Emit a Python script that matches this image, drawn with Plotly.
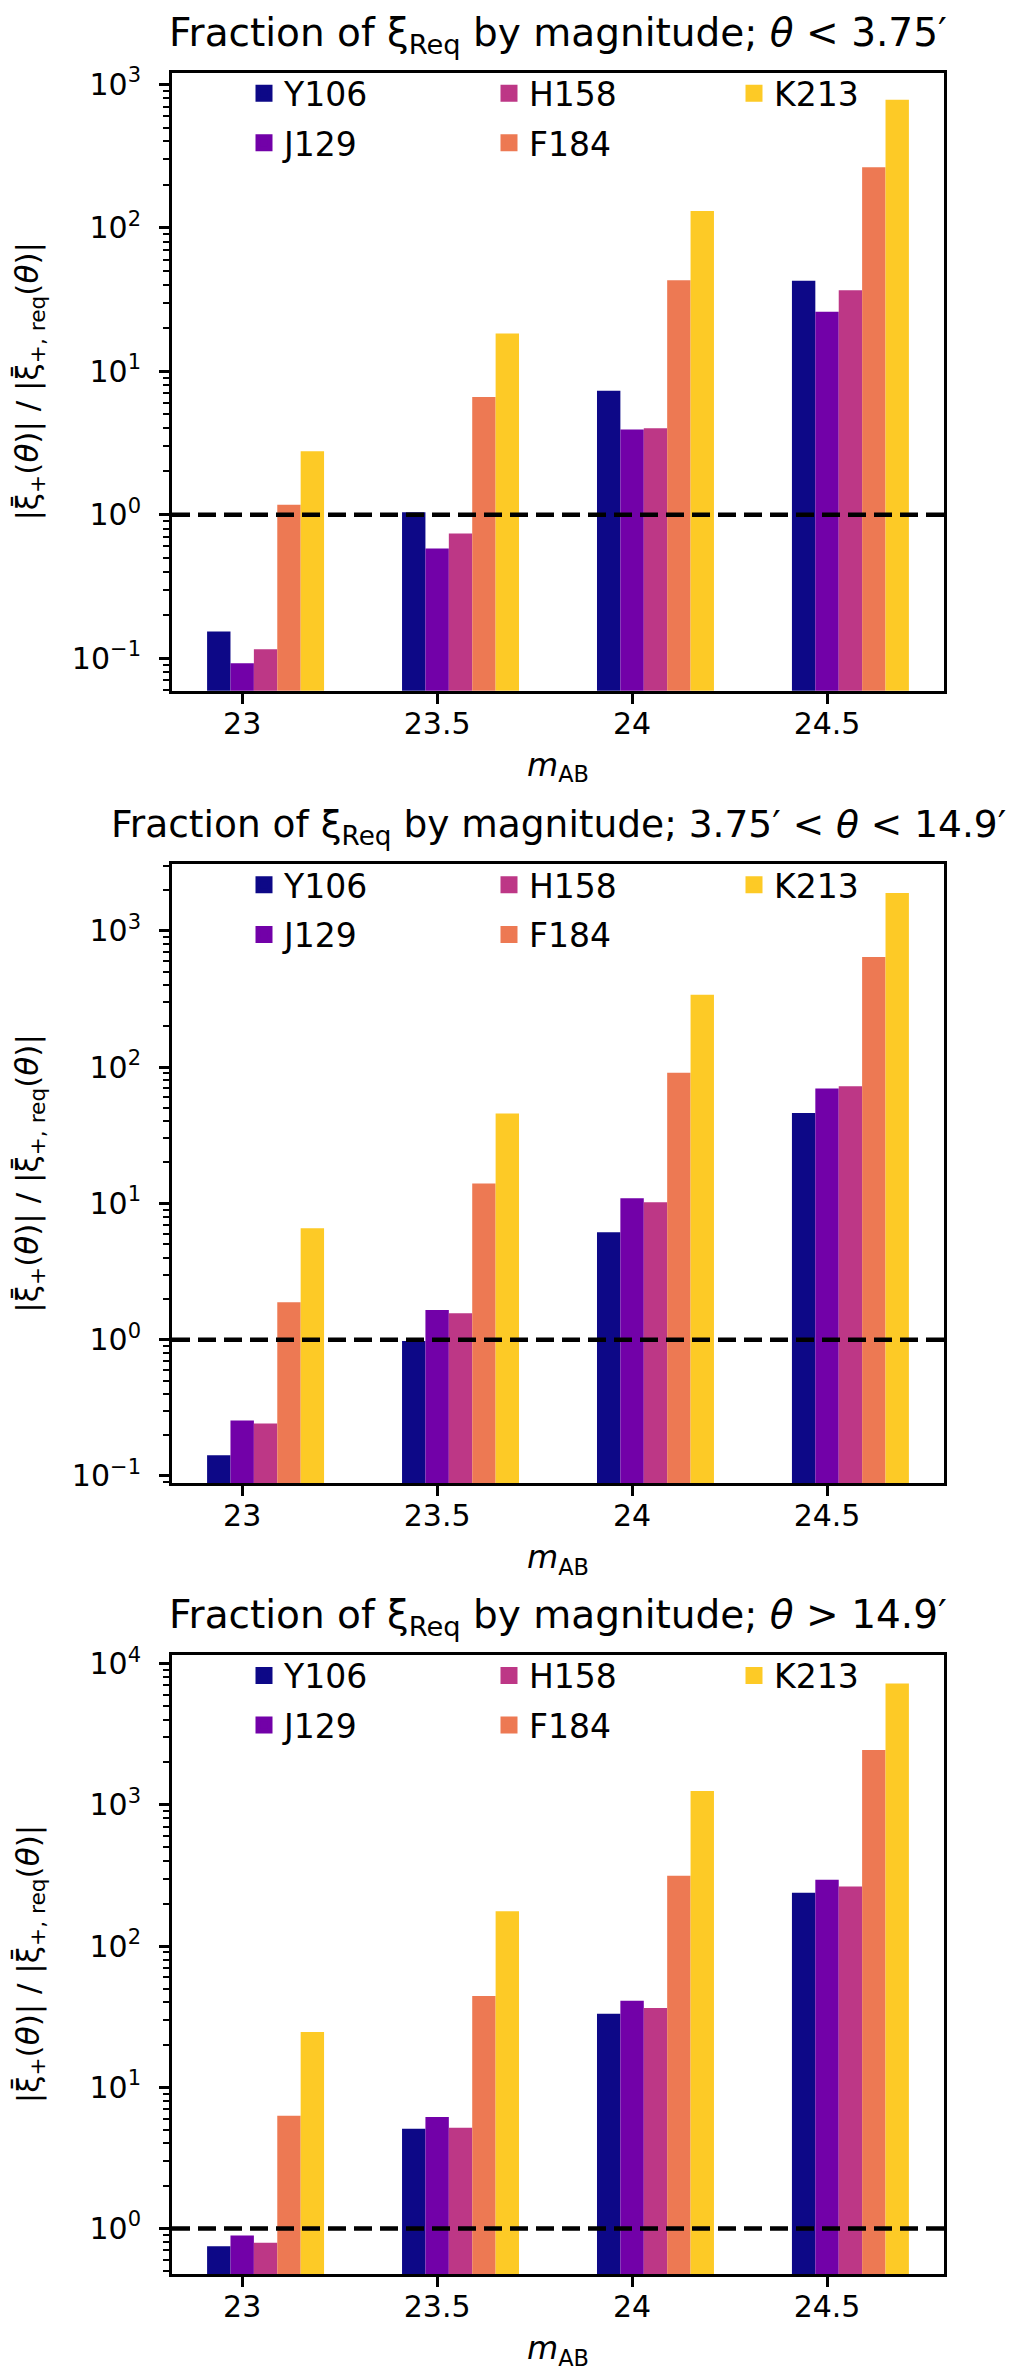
import plotly.graph_objects as go

# magnitude bins and bands
mags = [23, 23.5, 24, 24.5]
mag_labels = ["23", "23.5", "24", "24.5"]
bands = ["Y106", "J129", "H158", "F184", "K213"]
band_colors = ["#0d0887", "#7201a8", "#bd3786", "#ed7953", "#fdca26"]

# |xi+| / |xi+,req| per band (rows follow `bands`), one list per theta bin
ratio_small = [
    [0.153, 1.04, 7.3, 42.7],
    [0.092, 0.58, 3.92, 26.0],
    [0.115, 0.74, 4.0, 36.7],
    [1.17, 6.6, 43.1, 264],
    [2.77, 18.3, 131, 781],
]
ratio_mid = [
    [0.142, 0.98, 6.14, 46.1],
    [0.255, 1.65, 10.9, 69.8],
    [0.243, 1.56, 10.2, 72.5],
    [1.88, 14.0, 90.9, 643],
    [6.57, 45.7, 340, 1900],
]
ratio_large = [
    [0.747, 5.08, 33.2, 238],
    [0.893, 6.15, 41.0, 295],
    [0.792, 5.17, 36.4, 264],
    [6.28, 44.2, 315, 2445],
    [24.6, 176, 1254, 7240],
]

panel_titles = [
    "Fraction of ξ<sub>Req</sub> by magnitude; <i>θ</i> &lt; 3.75′",
    "Fraction of ξ<sub>Req</sub> by magnitude; 3.75′ &lt; <i>θ</i> &lt; 14.9′",
    "Fraction of ξ<sub>Req</sub> by magnitude; <i>θ</i> &gt; 14.9′",
]
title_sizes = [39, 37.5, 39]
y_title = "|ξ\u0304<sub>+</sub>(<i>θ</i>)| / |ξ\u0304<sub>+, req</sub>(<i>θ</i>)|"
y_ranges = [[-1.228, 3.083], [-1.054, 3.49], [-0.322, 4.063]]
y_major = [
    [0.1, 1, 10, 100, 1000],
    [0.1, 1, 10, 100, 1000],
    [1, 10, 100, 1000, 10000],
]
y_major_text = [
    ["10<sup>−1</sup>", "10<sup>0</sup>", "10<sup>1</sup>", "10<sup>2</sup>", "10<sup>3</sup>"],
    ["10<sup>−1</sup>", "10<sup>0</sup>", "10<sup>1</sup>", "10<sup>2</sup>", "10<sup>3</sup>"],
    ["10<sup>0</sup>", "10<sup>1</sup>", "10<sup>2</sup>", "10<sup>3</sup>", "10<sup>4</sup>"],
]
panels = [ratio_small, ratio_mid, ratio_large]

W, H = 1016, 2374
FONT = "DejaVu Sans"
x_dom = [164 / W, 936 / W]
# axes top / bottom in pixels from the top of the page
y_px = [(53, 677), (852, 1477), (1650, 2275)]
y_doms = [[1 - b / H, 1 - t / H] for t, b in y_px]

bar_w = 0.06
minor_vals = [m * 10 ** e for e in range(-2, 5) for m in range(2, 10)]

fig = go.Figure()

for p, ratios in enumerate(panels):
    sfx = "" if p == 0 else str(p + 1)
    for i, band in enumerate(bands):
        fig.add_trace(go.Bar(
            x=mags,
            y=ratios[i],
            width=bar_w,
            offset=(i - 1.5) * bar_w,
            name=band,
            marker_color=band_colors[i],
            marker_line_width=0,
            xaxis="x" + sfx,
            yaxis="y" + sfx,
            showlegend=False,
        ))
    # legend-only entries with a thick outline so the swatches come out larger
    for i, band in enumerate(bands):
        # first legend row holds Y106/H158/K213, second J129/F184
        leg_idx = 2 * p + (1 if i % 2 == 0 else 2)
        leg = "legend" if leg_idx == 1 else f"legend{leg_idx}"
        fig.add_trace(go.Bar(
            x=[None], y=[None],
            name=band,
            marker=dict(color=band_colors[i],
                        line=dict(color=band_colors[i], width=5)),
            xaxis="x" + sfx,
            yaxis="y" + sfx,
            legend=leg,
            showlegend=True,
            hoverinfo="skip",
        ))

    fig.add_shape(
        type="line", xref=f"x{sfx} domain", yref="y" + sfx,
        x0=0, x1=1, y0=1, y1=1,
        line=dict(color="black", width=4.5, dash="18px,8px"),
    )

    # panel title
    fig.add_annotation(
        text=panel_titles[p],
        xref="paper", yref="paper",
        x=(x_dom[0] + x_dom[1]) / 2, y=y_doms[p][1],
        xanchor="center", yanchor="bottom", yshift=11,
        showarrow=False,
        font=dict(family=FONT, size=title_sizes[p], color="black"),
    )
    # rotated y label, placed by hand so it sits at the page edge
    fig.add_annotation(
        text=y_title, textangle=-90,
        xref="paper", yref="paper",
        x=22 / W, y=(y_doms[p][0] + y_doms[p][1]) / 2,
        xanchor="center", yanchor="middle",
        showarrow=False,
        font=dict(family=FONT, size=31, color="black"),
    )

    fig.layout["xaxis" + sfx] = dict(
        domain=x_dom, anchor="y" + sfx,
        range=[22.82, 24.80],
        tickvals=mags, ticktext=mag_labels,
        ticks="outside", ticklen=10, tickwidth=2.5, tickcolor="black",
        ticklabelstandoff=-6,
        showline=True, linewidth=3, linecolor="black", mirror=True,
        showgrid=False, zeroline=False,
        tickfont=dict(family=FONT, size=30, color="black"),
        title=dict(text="<i>m</i><sub>AB</sub>", standoff=14,
                   font=dict(family=FONT, size=32, color="black")),
    )
    fig.layout["yaxis" + sfx] = dict(
        domain=y_doms[p], anchor="x" + sfx,
        type="log", range=y_ranges[p],
        tickvals=y_major[p], ticktext=y_major_text[p],
        ticks="outside", ticklen=10, tickwidth=2.5, tickcolor="black",
        ticklabelstandoff=12,
        minor=dict(tickvals=minor_vals, ticks="outside", ticklen=6,
                   tickwidth=2, tickcolor="black"),
        showline=True, linewidth=3, linecolor="black", mirror=True,
        showgrid=False, zeroline=False,
        tickfont=dict(family=FONT, size=30, color="black"),
    )

    # two horizontal legend rows inside the top-left of each panel
    top_px = y_px[p][0]
    for r in range(2):
        leg_idx = 2 * p + r + 1
        key = "legend" if leg_idx == 1 else f"legend{leg_idx}"
        fig.layout[key] = dict(
            orientation="h",
            x=236 / W, xanchor="left",
            y=1 - (top_px + 21 + 50 * r) / H, yanchor="middle",
            bgcolor="rgba(0,0,0,0)",
            entrywidth=200, entrywidthmode="pixels",
            font=dict(family=FONT, size=33, color="black"),
            traceorder="normal",
        )

fig.update_layout(
    width=W, height=H, autosize=False,
    margin=dict(l=0, r=0, t=0, b=0),
    barmode="overlay",
    plot_bgcolor="white", paper_bgcolor="white",
    font=dict(family=FONT, color="black"),
)

fig.write_html("out.html")
